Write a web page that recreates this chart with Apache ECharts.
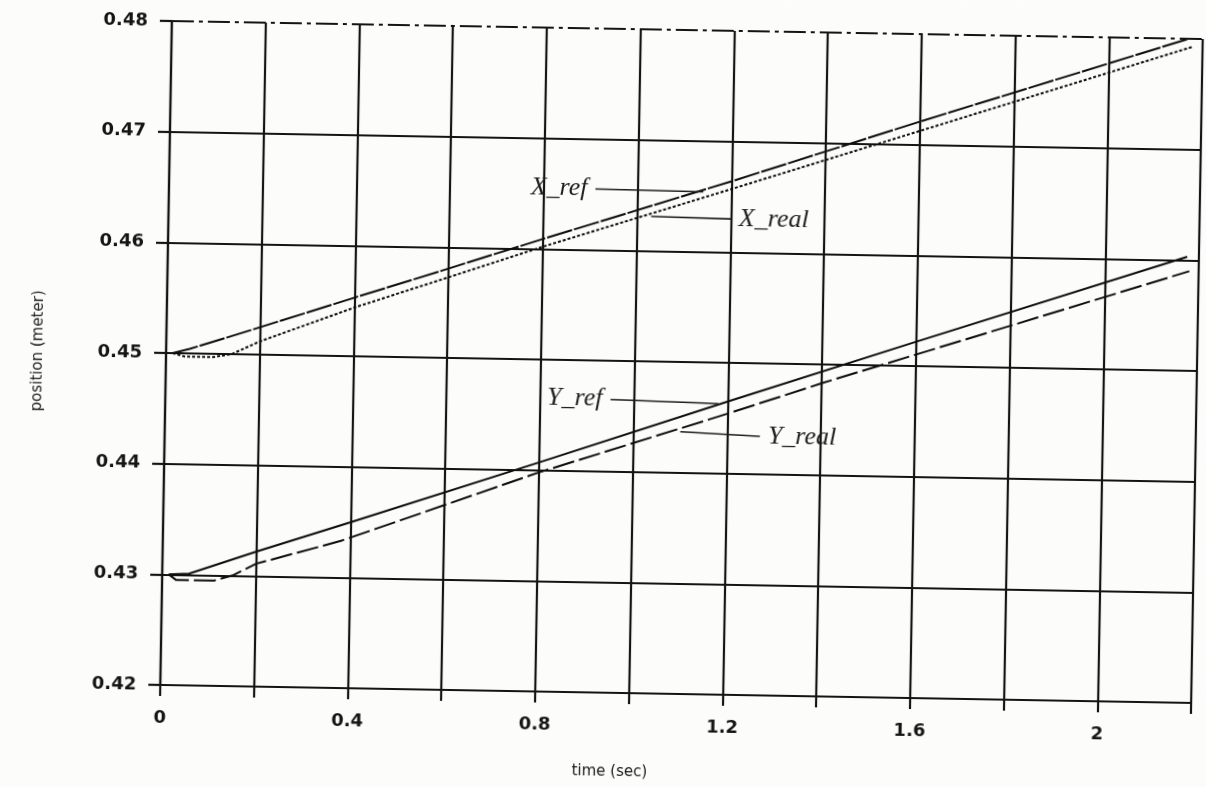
<!DOCTYPE html>
<html>
<head>
<meta charset="utf-8">
<script src="https://cdn.jsdelivr.net/npm/echarts@6/dist/echarts.min.js"></script>
<style>
  html, body { margin: 0; padding: 0; background: #fcfcfb; }
  /* the printed sheet sits slightly askew */
  #chart { width: 1206px; height: 787px; transform-origin: 682px 362px; transform: rotate(1deg); }
</style>
</head>
<body>
<div id="chart"></div>
<script>
// Position traces (time in s, position in m)
const xRefTime  = [0.014, 0.05, 0.18, 0.40, 0.58, 0.80, 1.20, 1.60, 2.17];
const xRefPos   = [0.4500, 0.4504, 0.4522, 0.4553, 0.4578, 0.4609, 0.4664, 0.4721, 0.4800];
const xRealTime = [0.014, 0.04, 0.10, 0.14, 0.20, 0.40, 0.58, 0.80, 1.20, 2.18];
const xRealPos  = [0.4500, 0.4497, 0.4497, 0.4500, 0.4512, 0.4544, 0.4570, 0.4602, 0.4657, 0.4793];
const yRefTime  = [0.014, 0.057, 0.20, 0.40, 0.80, 1.20, 1.60, 2.175];
const yRefPos   = [0.4300, 0.4301, 0.4322, 0.4350, 0.4407, 0.4465, 0.4522, 0.4603];
const yRealTime = [0.014, 0.03, 0.11, 0.15, 0.20, 0.38, 0.80, 1.20, 1.40, 2.18];
const yRealPos  = [0.4300, 0.4295, 0.4295, 0.4300, 0.4311, 0.4333, 0.4398, 0.4454, 0.4483, 0.4590];

// Hand-drawn call-outs: [label, startTime, startPos, endTime, endPos, side]
const xRefNote  = ['X_ref',  0.91, 0.4655, 1.14, 0.4654, 'start'];
const xRealNote = ['X_real', 1.03, 0.4631, 1.20, 0.4630, 'end'];
const yRefNote  = ['Y_ref',  0.95, 0.4465, 1.18, 0.4463, 'start'];
const yRealNote = ['Y_real', 1.10, 0.4437, 1.27, 0.4434, 'end'];

const xTicks = { min: 0, max: 2.2, step: 0.2 };
const yTicks = { min: 0.42, max: 0.48, step: 0.01 };

const ink = '#141414';
const pairs = (t, v) => t.map((x, i) => [x, v[i]]);

function note(n) {
  return {
    silent: true,
    symbol: 'none',
    lineStyle: { color: '#1e1e1e', width: 1.6, type: 'solid' },
    label: {
      show: true,
      position: n[5],
      formatter: n[0],
      distance: 8,
      fontFamily: 'Liberation Serif',
      fontStyle: 'italic',
      fontSize: 26,
      color: '#1e1e1e'
    },
    data: [[{ coord: [n[1], n[2]] }, { coord: [n[3], n[4]] }]]
  };
}

function trace(name, t, v, dash, n) {
  return {
    name: name,
    type: 'line',
    data: pairs(t, v),
    showSymbol: false,
    smooth: false,
    lineStyle: { color: '#0e0e0e', width: 2, type: dash },
    markLine: note(n),
    z: 3
  };
}

const chart = echarts.init(document.getElementById('chart'));
chart.setOption({
  animation: false,
  backgroundColor: '#fcfcfb',
  grid: { left: 166, top: 30, width: 1031, height: 664, containLabel: false },
  xAxis: {
    type: 'value',
    min: xTicks.min, max: xTicks.max, interval: xTicks.step,
    name: 'time (sec)',
    nameLocation: 'middle',
    nameGap: 72,
    nameTextStyle: { fontFamily: 'DejaVu Sans', fontSize: 15, color: '#1a1a1a', padding: [0, 130, 0, 0] },
    axisLine: { show: true, lineStyle: { color: ink, width: 2.2 } },
    axisTick: { show: true, length: 11, lineStyle: { color: ink, width: 2.2 } },
    axisLabel: {
      margin: 24,
      fontFamily: 'DejaVu Sans', fontWeight: 'bold', fontSize: 18, color: '#151515',
      formatter: v => (Math.round(v * 10) % 4 === 0 ? String(+v.toFixed(1)) : '')
    },
    splitLine: { show: true, lineStyle: { color: ink, width: 2.2 } }
  },
  yAxis: {
    type: 'value',
    min: yTicks.min, max: yTicks.max, interval: yTicks.step,
    name: 'position (meter)',
    nameLocation: 'middle',
    nameRotate: 90,
    nameGap: 120,
    nameTextStyle: { fontFamily: 'DejaVu Sans', fontSize: 15, color: '#1a1a1a' },
    axisLine: { show: true, lineStyle: { color: ink, width: 2.2 } },
    axisTick: { show: true, length: 12, lineStyle: { color: ink, width: 2.2 } },
    axisLabel: {
      margin: 24,
      fontFamily: 'DejaVu Sans', fontWeight: 'bold', fontSize: 18, color: '#151515',
      formatter: v => v.toFixed(2)
    },
    splitLine: {
      show: true,
      lineStyle: { color: [ink, ink, ink, ink, ink, ink, 'transparent'], width: 2.2 }
    }
  },
  series: [
    trace('X_ref', xRefTime, xRefPos, [26, 2], xRefNote),
    trace('X_real', xRealTime, xRealPos, [3, 2], xRealNote),
    trace('Y_ref', yRefTime, yRefPos, 'solid', yRefNote),
    trace('Y_real', yRealTime, yRealPos, [22, 5], yRealNote),
    {
      // dash-dot top frame of the plot
      type: 'line',
      data: [],
      markLine: {
        silent: true,
        symbol: 'none',
        label: { show: false },
        lineStyle: { color: ink, width: 2.2, type: [22, 5, 4, 5] },
        data: [{ yAxis: yTicks.max }]
      }
    }
  ]
});
</script>
</body>
</html>
